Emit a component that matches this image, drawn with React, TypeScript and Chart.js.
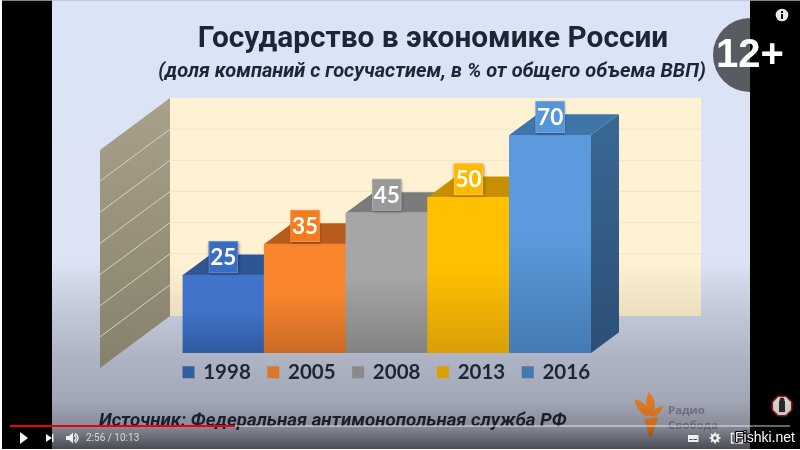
import React, { useEffect, useRef } from "react";
import { Chart, registerables } from "chart.js";

Chart.register(...registerables);

const categories = ["1998", "2005", "2008", "2013", "2016"];
const shareOfGdp = [25, 35, 45, 50, 70];
const wallGridValues = [10, 20, 30, 40, 50, 60];
const axisMin = 0;
const axisMax = 70;

const chartTitle = "Государство в экономике России";
const chartSubtitle = "(доля компаний с госучастием, в % от общего объема ВВП)";
const sourceText = "Источник: Федеральная антимонопольная служба РФ";
const ageBadge = "12+";
const timeText = "2:56 / 10:13";
const watermark = "Fishki.net";
const logoLines = ["Радио", "Свобода"];

const frontTop = ["#4173ca", "#f9852c", "#a6a6a6", "#ffc000", "#5b9bdd"];
const frontBottom = ["#2f5a9e", "#c96a24", "#828282", "#d99f06", "#457ab4"];
const topFace = ["#2e5596", "#b85c1e", "#7b7b7b", "#c69000", "#4075a9"];
const sideTop = ["#2e5596", "#b85c1e", "#6f6f6f", "#b88600", "#386792"];
const sideBottom = ["#234477", "#964a18", "#5c5c5c", "#9c7200", "#2c4f76"];
const labelFill = ["#3a6cc4", "#f57b1c", "#999999", "#ffb900", "#5595d8"];
const legendFill = ["#325f9f", "#d9772a", "#8a8a8a", "#d9a006", "#4479ad"];

const depthX = 28;
const depthY = 20.7;
const wallDepthY = 37;
const wallBackX = 170;
const wallFrontX = 100;
const wallRight = 701;

function poly(c: CanvasRenderingContext2D, pts: number[][], fill: any) {
  c.beginPath();
  pts.forEach((p, i) => (i ? c.lineTo(p[0], p[1]) : c.moveTo(p[0], p[1])));
  c.closePath();
  c.fillStyle = fill;
  c.fill();
}

const sceneryPlugin = {
  id: "scenery",
  afterLayout(chart: any) {
    chart.boxes.forEach((b: any) => {
      const t = b.options && b.options.text;
      if (t === chartTitle) {
        b.left += 33;
        b.right += 33;
      } else if (t === chartSubtitle) {
        b.left += 32;
        b.right += 32;
      }
    });
    const lg = chart.legend;
    if (lg) {
      lg.left -= 13;
      lg.right -= 13;
      lg.top -= 9;
      lg.bottom -= 9;
    }
  },
  beforeDraw(chart: any) {
    const c: CanvasRenderingContext2D = chart.ctx;
    const g = c.createLinearGradient(0, 0, 0, 420);
    g.addColorStop(0, "#dbe4f6");
    g.addColorStop(0.62, "#dbe3f4");
    g.addColorStop(0.72, "#c6cddd");
    g.addColorStop(0.85, "#aeb4c4");
    g.addColorStop(1, "#9da2b1");
    c.fillStyle = g;
    c.fillRect(0, 0, 800, 450);
  },
  beforeDatasetsDraw(chart: any) {
    const c: CanvasRenderingContext2D = chart.ctx;
    const y = chart.scales.y;
    const wy = (v: number) => y.getPixelForValue(v) - wallDepthY;
    const top = wy(axisMax);
    const bottom = wy(axisMin);
    const slope = (wallFrontX - wallBackX) * (-52 / 70);

    // back wall
    const wg = c.createLinearGradient(0, top, 0, bottom);
    wg.addColorStop(0, "#fff2d3");
    wg.addColorStop(0.75, "#fff2d3");
    wg.addColorStop(1, "#eadebd");
    c.fillStyle = wg;
    c.fillRect(wallBackX, top, wallRight - wallBackX, bottom - top);
    c.strokeStyle = "#efe4cf";
    c.lineWidth = 1;
    wallGridValues.forEach((v) => {
      c.beginPath();
      c.moveTo(wallBackX, wy(v));
      c.lineTo(wallRight, wy(v));
      c.stroke();
    });

    // side wall
    const sg = c.createLinearGradient(0, top, 0, bottom + slope);
    sg.addColorStop(0, "#a9a18b");
    sg.addColorStop(1, "#87806c");
    poly(
      c,
      [
        [wallBackX, top],
        [wallBackX, bottom],
        [wallFrontX, bottom + slope],
        [wallFrontX, top + slope],
      ],
      sg
    );
    c.strokeStyle = "#d6d2c2";
    wallGridValues.forEach((v) => {
      c.beginPath();
      c.moveTo(wallBackX, wy(v));
      c.lineTo(wallFrontX, wy(v) + slope);
      c.stroke();
    });

    // depth of the bars
    const meta = chart.getDatasetMeta(0);
    const base = y.getPixelForValue(axisMin);
    meta.data.forEach((el: any, i: number) => {
      const x1 = el.x + el.width / 2;
      const x0 = el.x - el.width / 2;
      const t = el.y;
      const sgr = c.createLinearGradient(0, t, 0, base);
      sgr.addColorStop(0, sideTop[i]);
      sgr.addColorStop(1, sideBottom[i]);
      poly(
        c,
        [
          [x1, t],
          [x1 + depthX, t - depthY],
          [x1 + depthX, base - depthY],
          [x1, base],
        ],
        sgr
      );
      poly(
        c,
        [
          [x0, t],
          [x1, t],
          [x1 + depthX, t - depthY],
          [x0 + depthX, t - depthY],
        ],
        topFace[i]
      );
    });
  },
  afterDatasetsDraw(chart: any) {
    const c: CanvasRenderingContext2D = chart.ctx;
    const meta = chart.getDatasetMeta(0);
    meta.data.forEach((el: any, i: number) => {
      const w = 29.5;
      const h = 32;
      const bx = el.x - w / 2;
      const by = el.y - 2 - h;
      c.save();
      c.shadowColor = "rgba(0,0,0,0.4)";
      c.shadowBlur = 3;
      c.shadowOffsetX = 0.5;
      c.shadowOffsetY = 1;
      c.fillStyle = labelFill[i];
      c.fillRect(bx, by, w, h);
      c.restore();
      c.strokeStyle = "rgba(255,255,255,0.18)";
      c.lineWidth = 1;
      c.strokeRect(bx + 0.5, by + 0.5, w - 1, h - 1);
      c.fillStyle = "#ffffff";
      c.font = "bold 22.5px Lato";
      c.textAlign = "center";
      c.textBaseline = "middle";
      c.fillText(String(shareOfGdp[i]), el.x, by + h / 2 + 0.5);
    });
  },
  afterDraw(chart: any) {
    const c: CanvasRenderingContext2D = chart.ctx;
    c.save();

    // source line
    c.fillStyle = "#1c2330";
    c.font = "italic bold 18.7px Roboto";
    c.textAlign = "left";
    c.textBaseline = "middle";
    c.fillText(sourceText, 99, 421);

    // broadcaster logo
    c.fillStyle = "#e07b25";
    c.beginPath();
    c.moveTo(644.3, 418.7);
    c.lineTo(658.3, 417.3);
    c.lineTo(652, 436);
    c.lineTo(649, 436);
    c.closePath();
    c.fill();
    c.beginPath();
    c.moveTo(634.5, 399.5);
    c.quadraticCurveTo(646, 401, 651, 415);
    c.lineTo(646, 416);
    c.quadraticCurveTo(637, 412, 634.5, 399.5);
    c.fill();
    c.beginPath();
    c.moveTo(648.5, 392);
    c.quadraticCurveTo(659, 402, 652, 415);
    c.lineTo(648, 413);
    c.quadraticCurveTo(644, 402, 648.5, 392);
    c.fill();
    c.beginPath();
    c.moveTo(663.5, 406);
    c.quadraticCurveTo(656, 406, 650, 416);
    c.lineTo(654, 417);
    c.quadraticCurveTo(660, 414, 663.5, 406);
    c.fill();
    c.fillStyle = "#75777e";
    c.font = "bold 11.4px 'Open Sans'";
    c.fillText(logoLines[0], 668, 411);
    c.fillText(logoLines[1], 668, 426);

    // black pillars
    c.fillStyle = "#000";
    c.fillRect(0, 0, 52, 450);
    c.fillRect(750, 0, 50, 450);

    // age badge
    c.fillStyle = "rgba(0,0,0,0.6)";
    c.beginPath();
    c.arc(750, 55, 37, 0, Math.PI * 2);
    c.fill();
    c.fillStyle = "#fff";
    c.font = "bold 40px 'Liberation Sans'";
    c.textAlign = "center";
    c.fillText(ageBadge, 750, 56);

    // info icon
    c.fillStyle = "#e8e8e8";
    c.beginPath();
    c.arc(782, 15, 6.3, 0, Math.PI * 2);
    c.fill();
    c.fillStyle = "#111";
    c.fillRect(781, 14, 2, 5);
    c.fillRect(781, 11, 2, 2);

    // sign
    c.fillStyle = "#d8d5d2";
    c.strokeStyle = "#8e1c1c";
    c.lineWidth = 1.6;
    c.beginPath();
    for (let i = 0; i < 8; i++) {
      const a = Math.PI / 8 + (i * Math.PI) / 4;
      const px = 782 + 10.5 * Math.cos(a);
      const py = 406 + 10.5 * Math.sin(a);
      i ? c.lineTo(px, py) : c.moveTo(px, py);
    }
    c.closePath();
    c.fill();
    c.stroke();
    c.fillStyle = "#2a2a2a";
    c.fillRect(779, 401, 6, 11);
    c.beginPath();
    c.arc(782, 400, 2.5, 0, Math.PI * 2);
    c.fill();

    // player shade
    const pg = c.createLinearGradient(0, 400, 0, 450);
    pg.addColorStop(0, "rgba(0,0,0,0)");
    pg.addColorStop(0.5, "rgba(0,0,0,0.12)");
    pg.addColorStop(1, "rgba(0,0,0,0.55)");
    c.fillStyle = pg;
    c.fillRect(0, 400, 800, 50);

    // progress
    c.fillStyle = "rgba(255,255,255,0.4)";
    c.fillRect(10, 425, 780, 2);
    c.fillStyle = "#f00000";
    c.fillRect(10, 425, 225, 2);

    // play / next / volume
    poly(c, [[20, 432], [28, 438], [20, 444]], "#f2f2f2");
    poly(c, [[46, 434], [52, 438], [46, 442]], "#f2f2f2");
    c.fillStyle = "#f2f2f2";
    c.fillRect(52, 434, 1.5, 8);
    poly(c, [[66, 436], [69, 436], [73, 432.5], [73, 443.5], [69, 440], [66, 440]], "#f2f2f2");
    c.strokeStyle = "#f2f2f2";
    c.lineWidth = 1.3;
    c.beginPath();
    c.arc(73, 438, 3, -1.2, 1.2);
    c.stroke();
    c.beginPath();
    c.arc(73, 438, 5, -1.2, 1.2);
    c.stroke();
    c.fillStyle = "#d8d8d8";
    c.font = "10px Roboto";
    c.textAlign = "left";
    c.fillText(timeText, 86, 438);

    // captions
    c.fillStyle = "#efefef";
    c.fillRect(688, 435, 10.5, 7);
    c.fillStyle = "#444";
    c.fillRect(689.5, 439, 3, 1);
    c.fillRect(693.5, 439, 3.5, 1);

    // settings
    c.fillStyle = "#efefef";
    c.beginPath();
    c.arc(715, 438, 4, 0, Math.PI * 2);
    c.fill();
    c.strokeStyle = "#efefef";
    c.lineWidth = 1.8;
    for (let i = 0; i < 8; i++) {
      const a = (i * Math.PI) / 4;
      c.beginPath();
      c.moveTo(715 + 3.5 * Math.cos(a), 438 + 3.5 * Math.sin(a));
      c.lineTo(715 + 5.5 * Math.cos(a), 438 + 5.5 * Math.sin(a));
      c.stroke();
    }
    c.fillStyle = "#555";
    c.beginPath();
    c.arc(715, 438, 1.7, 0, Math.PI * 2);
    c.fill();

    // fullscreen
    c.strokeStyle = "#efefef";
    c.lineWidth = 1.3;
    c.beginPath();
    c.moveTo(734, 433.5);
    c.lineTo(731.5, 433.5);
    c.lineTo(731.5, 443);
    c.lineTo(734, 443);
    c.stroke();
    c.strokeRect(735.5, 434, 7, 9);

    // watermark
    c.font = "14px 'Liberation Sans'";
    c.lineWidth = 2.2;
    c.strokeStyle = "#000";
    c.lineJoin = "round";
    c.strokeText(watermark, 735, 438);
    c.fillStyle = "#fff";
    c.fillText(watermark, 735, 438);

    // frame edges
    c.fillStyle = "#ffffff";
    c.fillRect(0, 449, 800, 1);
    c.fillRect(0, 0, 2, 450);
    c.fillStyle = "rgba(190,190,190,0.7)";
    c.fillRect(2, 0, 798, 1);
    c.restore();
  },
};

export default function App() {
  const ref = useRef<HTMLCanvasElement | null>(null);
  useEffect(() => {
    document.body.style.margin = "0";
    const canvas = ref.current!;
    const chart = new Chart(canvas, {
      type: "bar",
      data: {
        labels: categories,
        datasets: [
          {
            label: "Доля, %",
            data: shareOfGdp,
            barPercentage: 1,
            categoryPercentage: 1,
            borderWidth: 0,
            backgroundColor: (ctx: any) => {
              const i = ctx.dataIndex;
              const a = ctx.chart.chartArea;
              const y = ctx.chart.scales.y;
              if (!a || !y || i === undefined) return frontTop[0];
              const g = ctx.chart.ctx.createLinearGradient(
                0,
                y.getPixelForValue(shareOfGdp[i]),
                0,
                a.bottom
              );
              g.addColorStop(0, frontTop[i]);
              g.addColorStop(0.45, frontTop[i]);
              g.addColorStop(1, frontBottom[i]);
              return g;
            },
          },
        ],
      },
      options: {
        responsive: false,
        animation: false,
        layout: { padding: { left: 0, right: 0, top: 0, bottom: 48.5 } },
        scales: {
          x: { display: false, offset: true },
          y: {
            position: "left",
            min: axisMin,
            max: axisMax,
            grid: { display: false },
            border: { display: false },
            ticks: { display: false, stepSize: 10 },
            afterFit: (s: any) => {
              s.width = 182.5;
            },
          },
          yRight: {
            position: "right",
            min: axisMin,
            max: axisMax,
            grid: { display: false },
            border: { display: false },
            ticks: { display: false, stepSize: 10 },
            afterFit: (s: any) => {
              s.width = 209;
            },
          },
        },
        plugins: {
          tooltip: { enabled: false },
          title: {
            display: true,
            text: chartTitle,
            color: "#1c2635",
            font: { family: "Roboto", size: 29.8, weight: "bold", lineHeight: "40px" },
            padding: { top: 20, bottom: 0 },
          },
          subtitle: {
            display: true,
            text: chartSubtitle,
            color: "#1c2635",
            font: { family: "Roboto", size: 20, weight: "bold", style: "italic", lineHeight: "24px" },
            padding: { top: 0, bottom: 51 },
          },
          legend: {
            position: "bottom",
            labels: {
              font: { family: "Lato", size: 20.5, weight: "bold" },
              color: "#1c2635",
              boxWidth: 9,
              boxHeight: 9,
              padding: 18,
              generateLabels: () =>
                categories.map((t, i) => ({
                  text: t,
                  fillStyle: legendFill[i],
                  strokeStyle: legendFill[i],
                  fontColor: "#1c2635",
                  lineWidth: 3,
                  hidden: false,
                  index: i,
                  datasetIndex: 0,
                })),
            },
          },
        },
      } as any,
      plugins: [sceneryPlugin],
    });
    return () => chart.destroy();
  }, []);
  return (
    <canvas
      ref={ref}
      width={800}
      height={450}
      style={{ display: "block", position: "fixed", left: 0, top: 0, width: 800, height: 450 }}
    />
  );
}
